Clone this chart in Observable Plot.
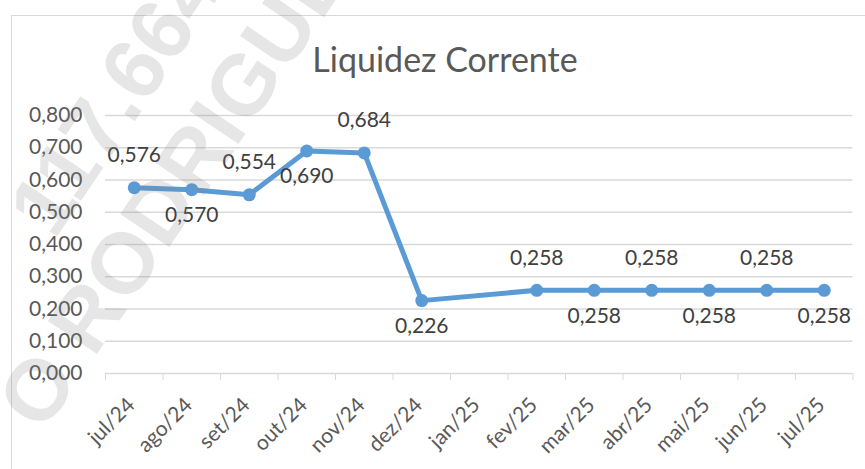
<!DOCTYPE html>
<html>
<head>
<meta charset="utf-8">
<script src="https://cdn.jsdelivr.net/npm/d3@7"></script>
<script src="https://cdn.jsdelivr.net/npm/@observablehq/plot@0.6"></script>
<style>
  body { margin: 0; background: #fff; }
  #wrap { position: relative; width: 865px; height: 469px; overflow: hidden; font-family: Lato, sans-serif; background: #fff; }
  #frame { position: absolute; left: 11px; top: 15px; width: 900px; height: 500px; border-top: 1px solid #d9d9d9; border-left: 1px solid #d9d9d9; }
  #title { position: absolute; left: 245px; width: 400px; top: 42px; text-align: center; font-size: 34px; line-height: 34px; color: #595959; }
  #chart { position: absolute; left: 0; top: 0; }
  #wm { position: absolute; left: 0; top: 0; pointer-events: none; }
</style>
</head>
<body>
<div id="wrap">
  <div id="frame"></div>
  <div id="title">Liquidez Corrente</div>
  <div id="chart"></div>
  <svg id="wm" width="865" height="469"></svg>
</div>
<script>
const categories = ["jul/24","ago/24","set/24","out/24","nov/24","dez/24","jan/25","fev/25","mar/25","abr/25","mai/25","jun/25","jul/25"];
const values = [0.576, 0.570, 0.554, 0.690, 0.684, 0.226, null, 0.258, 0.258, 0.258, 0.258, 0.258, 0.258];
const yTicks = [0, 0.1, 0.2, 0.3, 0.4, 0.5, 0.6, 0.7, 0.8];
const watermarkLines = ["117.664", "O RODRIGUES"];

const fmt = v => d3.format(".3f")(v).replace(".", ",");
const data = categories.map((c, i) => ({i, c, v: values[i]})).filter(d => d.v != null);
data.forEach((d, k) => d.above = k % 2 === 0);
const boundaries = d3.range(categories.length + 1).map(k => k - 0.5);

const chart = Plot.plot({
  width: 865, height: 469,
  marginLeft: 105, marginRight: 12.5, marginTop: 115, marginBottom: 96,
  style: {fontFamily: "Lato, sans-serif", fontSize: "21px", background: "transparent", overflow: "visible"},
  x: {type: "linear", domain: [-0.5, categories.length - 0.5], label: null},
  y: {domain: [0, 0.8], label: null},
  marks: [
    Plot.gridY(yTicks, {stroke: "#d9d9d9", strokeOpacity: 1, strokeWidth: 1.3}),
    Plot.axisY(yTicks, {tickSize: 0, tickPadding: 23, tickFormat: fmt, fill: "#595959", label: null}),
    Plot.axisX(boundaries, {tickSize: 7, stroke: "#d9d9d9", strokeOpacity: 1, tickFormat: () => "", label: null}),
    Plot.axisX(d3.range(categories.length), {tickSize: 0, tickPadding: 28, dx: -3, tickRotate: -45, tickFormat: i => categories[i], fill: "#595959", label: null}),
    Plot.line(data, {x: "i", y: "v", stroke: "#5b9bd5", strokeWidth: 5}),
    Plot.dot(data, {x: "i", y: "v", r: 6.5, fill: "#5b9bd5", stroke: null}),
    Plot.text(data.filter(d => d.above), {x: "i", y: "v", text: d => fmt(d.v), dy: -32.5, fill: "#404040"}),
    Plot.text(data.filter(d => !d.above), {x: "i", y: "v", text: d => fmt(d.v), dy: 25.5, fill: "#404040"})
  ]
});
document.getElementById("chart").appendChild(chart);

// watermark overlay
const wm = d3.select("#wm");
const starts = [[54, 241], [43, 434]];
watermarkLines.forEach((t, k) => {
  wm.append("text")
    .attr("transform", `translate(${starts[k][0]},${starts[k][1]}) rotate(-56)`)
    .attr("font-family", "Liberation Sans, Arial, sans-serif")
    .attr("font-weight", "bold")
    .attr("font-size", 86)
    .attr("fill", "#808080")
    .attr("fill-opacity", 0.2)
    .text(t);
});
</script>
</body>
</html>
